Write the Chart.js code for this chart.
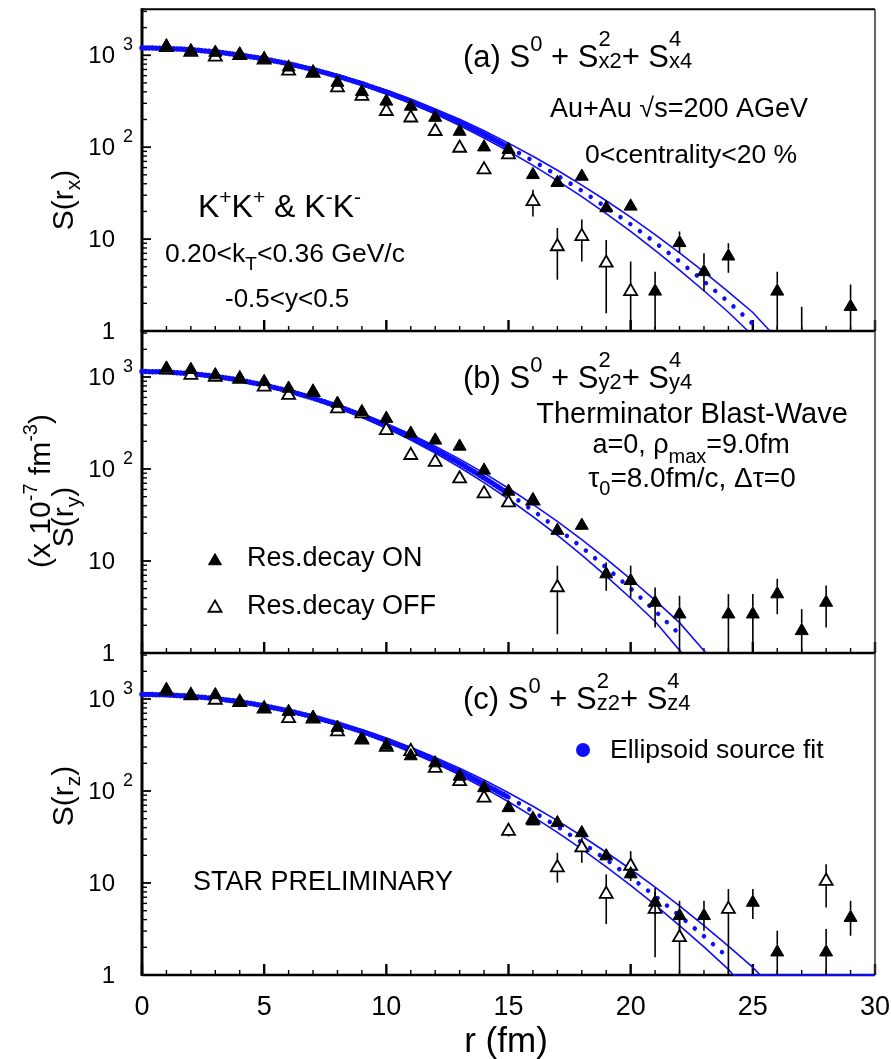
<!DOCTYPE html>
<html>
<head>
<meta charset="utf-8">
<script src="https://cdn.jsdelivr.net/npm/chart.js@4.4.0/dist/chart.umd.min.js"></script>
<style>
  body { margin: 0; background: #fff; }
  #wrap { position: relative; width: 891px; height: 1059px; overflow: hidden; background: #fff; }
  canvas { position: absolute; left: 0; }
</style>
</head>
<body>
<div id="wrap">
  <canvas id="panelA" width="891" height="345" style="top:0px"></canvas>
  <canvas id="panelB" width="891" height="345" style="top:320px"></canvas>
  <canvas id="panelC" width="891" height="419" style="top:640px"></canvas>
</div>
<script>
const FONT = "'Liberation Sans', Arial, Helvetica, sans-serif";
const BLUE = 'rgb(14, 14, 250)';

// r grid (fm) of the ellipsoid source fit
const fitR = [0, 1, 2, 3, 4, 5, 6, 7, 8, 9, 10, 11, 12, 13, 14, 15, 16, 17, 18, 19, 20, 21, 22, 23, 24, 25];

// (a) x direction: band upper / lower edge, central value, and where each edge reaches the floor
const aFitHi = [1202, 1189, 1152, 1093, 1014, 922, 821, 715, 610, 509, 416, 334, 261, 201, 151, 110.6, 79.6, 56.1, 38.7, 26.1, 17.3, 11.2, 7.09, 4.40, 2.67, 1.59];
const aFitLo = [1202, 1189, 1148, 1085, 1000, 902, 795, 685, 576, 473, 380, 299, 229, 172, 126, 90.4, 63.3, 43.3, 29.0, 18.9, 12.1, 7.54, 4.60, 2.74, 1.60];
const aFitMid = [1202, 1189, 1150, 1089, 1007, 912, 808, 700, 593, 491, 398, 316, 245, 186, 138, 100, 71.0, 49.3, 33.5, 22.2, 14.5, 9.19, 5.71, 3.47, 2.07, 1.20];
const aHiEnd = 25.7, aLoEnd = 24.8;

// (b) y direction
const bFitHi = [1148, 1134, 1091, 1021, 933, 829, 719, 608, 500, 401, 313, 239, 177, 128, 90.1, 61.8, 41.3, 26.9, 17.1, 10.57, 6.37, 3.74, 2.14, 1.06];
const bFitLo = [1148, 1132, 1086, 1011, 915, 805, 689, 573, 462, 364, 278, 206, 149, 104.5, 71.2, 47.2, 30.4, 19.05, 11.6, 6.86, 3.94, 2.20, 1.07];
const bFitMid = [1148, 1133, 1088, 1016, 924, 817, 704, 590, 481, 382, 295, 222, 162, 116, 80.1, 54.0, 35.4, 22.6, 14.1, 8.51, 5.01, 2.87, 1.60];
const bHiEnd = 23.1, bLoEnd = 22.1;

// (c) z direction
const cFitHi = [1122, 1110, 1074, 1017, 942, 854, 757, 657, 557, 462, 376, 299, 232, 177, 131.5, 95.8, 68.2, 47.6, 32.4, 21.6, 14.1, 9.02, 5.64, 3.45, 2.06, 1.21];
const cFitLo = [1122, 1108, 1070, 1007, 927, 832, 730, 625, 522, 426, 340, 264, 201, 149, 108, 76.3, 52.7, 35.5, 23.4, 15.0, 9.42, 5.77, 3.45, 2.02, 1.15];
const cFitMid = [1122, 1109, 1072, 1012, 934, 843, 743, 641, 539, 444, 357, 281, 216, 162, 119, 85.5, 59.9, 41.1, 27.5, 18.0, 11.5, 7.21, 4.41, 2.64, 1.54];
const cHiEnd = 25.3, cLoEnd = 24.2;

// Therminator source, resonance decays ON (filled) and OFF (open); lo/hi = error bar ends
const aOnR = [1, 2, 3, 4, 5, 6, 7, 8, 9, 10, 11, 12, 13, 14, 15, 16, 17, 18, 19, 20, 21, 22, 23, 24, 26, 27, 29];
const aOnS = [1250, 1110, 1070, 1020, 910, 740, 650, 505, 400, 315, 277, 210, 148, 100, 94, 50, 41, 48, 21.8, 22.7, 2.7, 9.1, 4.4, 6.5, 2.7, 0.6, 1.84];
const aOnLo = [null, null, null, null, null, null, null, null, null, null, null, null, null, null, null, null, null, null, null, null, 0.5, 7.0, 2.7, 4.3, 0.5, 0.2, 0.5];
const aOnHi = [null, null, null, null, null, null, null, null, null, null, null, null, null, null, null, null, null, null, null, null, 4.4, 12.1, 7.0, 9.0, 4.4, 1.84, 3.2];

const aOffR = [1, 2, 3, 4, 5, 6, 7, 8, 9, 10, 11, 12, 13, 14, 15, 16, 17, 18, 19, 20];
const aOffS = [1220, 1080, 960, 1000, 890, 675, 640, 444, 359, 246, 209, 149, 98, 57, 83, 25.7, 8.3, 10.7, 5.5, 2.7];
const aOffLo = [null, null, null, null, null, null, null, null, null, null, null, null, null, null, null, 17.6, 3.6, 5.7, 1.56, 0.5];
const aOffHi = [null, null, null, null, null, null, null, null, null, null, null, null, null, null, null, 34.5, 13.2, 16.3, 9.8, 5.7];

const bOnR = [1, 2, 3, 4, 5, 6, 7, 8, 9, 10, 11, 12, 13, 14, 15, 16, 17, 18, 19, 20, 21, 22, 24, 25, 26, 27, 28];
const bOnS = [1240, 1200, 1050, 966, 887, 751, 689, 515, 417, 353, 243, 205, 176, 96.6, 57, 45.5, 21.4, 24.3, 7.2, 6.1, 3.54, 2.64, 2.64, 2.64, 4.37, 1.74, 3.54];
const bOnLo = [null, null, null, null, null, null, null, null, null, null, null, null, null, null, null, null, null, null, 4.74, 4.0, 1.89, 0.5, 0.5, 0.5, 2.64, 0.5, 1.89];
const bOnHi = [null, null, null, null, null, null, null, null, null, null, null, null, null, null, null, null, null, null, 9.66, 8.9, 5.15, 4.19, 4.37, 4.37, 6.4, 3.0, 5.4];

const bOffR = [1, 2, 3, 4, 5, 6, 7, 8, 9, 10, 11, 12, 13, 14, 15, 16, 17];
const bOffS = [1200, 1050, 1000, 950, 782, 634, 680, 454, 400, 263, 141, 119, 78.4, 54, 43, 45, 5.15];
const bOffLo = [null, null, null, null, null, null, null, null, null, null, null, null, null, null, null, null, 1.6];
const bOffHi = [null, null, null, null, null, null, null, null, null, null, null, null, null, null, null, null, 8.9];

const cOnR = [1, 2, 3, 4, 5, 6, 7, 8, 9, 10, 11, 12, 13, 14, 15, 16, 17, 18, 19, 20, 21, 22, 23, 25, 26, 28, 29];
const cOnS = [1251, 1105, 1105, 935, 791, 728, 628, 489, 369, 312, 240, 201, 144, 108, 65.5, 47, 45, 35, 19.6, 12.5, 6.14, 4.4, 4.4, 6.14, 1.77, 1.77, 4.2];
const cOnLo = [null, null, null, null, null, null, null, null, null, null, null, null, null, null, null, null, null, null, null, null, 4.5, 3.0, 3.03, 4.06, 0.5, 0.5, 2.67];
const cOnHi = [null, null, null, null, null, null, null, null, null, null, null, null, null, null, null, null, null, null, null, null, 8.9, 6.4, 6.4, 8.6, 3.03, 3.16, 6.4];

const cOffR = [1, 2, 3, 4, 5, 6, 7, 8, 9, 10, 11, 12, 13, 14, 15, 16, 17, 18, 19, 20, 21, 22, 24, 28];
const cOffS = [1230, 1090, 975, 920, 780, 617, 610, 443, 360, 300, 270, 177, 127, 84, 36.6, 49, 14.7, 24.2, 7.57, 15.3, 5.2, 2.56, 5.2, 10.5];
const cOffLo = [null, null, null, null, null, null, null, null, null, null, null, null, null, null, 32, null, 10.1, 16.6, 3.58, 10.5, 1.56, 0.5, 0.5, 5.4];
const cOffHi = [null, null, null, null, null, null, null, null, null, null, null, null, null, null, 42, null, 21.3, 31, 12.4, 22.2, 8.0, 4.4, 8.6, 16];

// axis ticks
const xMajor = [0, 5, 10, 15, 20, 25, 30];
const yMajor = [1, 10, 100, 1000];
const yMinor = [2, 3, 4, 5, 6, 7, 8, 9, 20, 30, 40, 50, 60, 70, 80, 90, 200, 300, 400, 500, 600, 700, 800, 900, 2000, 3000];

const MARK_R = 7.5;

// ---- small text helpers: runs of text with super/subscripts ----
function layoutRuns(ctx, runs, x, y, paint) {
  let cx = x, stackStart = x, stackEnd = x;
  for (const r of runs) {
    ctx.font = r.s + 'px ' + FONT;
    const w = ctx.measureText(r.t).width;
    const start = r.under ? stackStart : cx;
    if (paint) ctx.fillText(r.t, start, y + (r.dy || 0));
    if (r.under) {
      cx = Math.max(stackEnd, start + w);
    } else {
      stackStart = start;
      cx = start + w;
    }
    stackEnd = cx;
  }
  return cx - x;
}

function drawRuns(ctx, x, y, runs, align) {
  ctx.textAlign = 'left';
  ctx.textBaseline = 'alphabetic';
  ctx.fillStyle = '#000';
  let sx = x;
  if (align === 'center') sx = x - layoutRuns(ctx, runs, 0, 0, false) / 2;
  layoutRuns(ctx, runs, sx, y, true);
}

function drawRotated(ctx, bx, cy, runs) {
  ctx.save();
  ctx.translate(bx, cy);
  ctx.rotate(-Math.PI / 2);
  drawRuns(ctx, 0, 0, runs, 'center');
  ctx.restore();
}

function triangle(ctx, x, y, r, filled) {
  ctx.beginPath();
  ctx.moveTo(x, y - r);
  ctx.lineTo(x + r * 0.866, y + r * 0.5);
  ctx.lineTo(x - r * 0.866, y + r * 0.5);
  ctx.closePath();
  ctx.fillStyle = filled ? '#000' : '#fff';
  ctx.fill();
  ctx.lineWidth = filled ? 1 : 1.8;
  ctx.strokeStyle = '#000';
  ctx.stroke();
}

function formula(ctx, letter, axis, baseY) {
  drawRuns(ctx, 463, baseY, [
    { t: '(' + letter + ') S', s: 31 },
    { t: '0', s: 22, dy: -16 },
    { t: ' + S', s: 31 },
    { t: '2', s: 22, dy: -21 },
    { t: axis + '2', s: 22, dy: 1, under: true },
    { t: '+ S', s: 31 },
    { t: '4', s: 22, dy: -21 },
    { t: axis + '4', s: 22, dy: 1, under: true }
  ]);
}

// ---- datasets ----
function pts(rs, vals) {
  return rs.map((r, i) => ({ x: r, y: vals[i] }));
}

function measured(rs, vals, lo, hi, filled) {
  return {
    data: pts(rs, vals),
    errLo: lo,
    errHi: hi,
    pointStyle: 'triangle',
    pointRadius: MARK_R,
    pointBackgroundColor: filled ? '#000' : '#fff',
    pointBorderColor: '#000',
    pointBorderWidth: filled ? 1 : 1.8,
    showLine: false
  };
}

// band edge: runs down to S = 1 and then along the floor to r = 30
function fitEdge(vals, end) {
  return {
    data: pts(fitR.slice(0, vals.length), vals).concat([{ x: end, y: 1 }, { x: 30, y: 1 }]),
    showLine: true,
    borderColor: BLUE,
    borderWidth: 1.6,
    pointRadius: 0,
    tension: 0,
    clip: 3
  };
}

// central fit value: thick near the top, a row of dots further out
function fitCentre(vals) {
  return {
    data: pts(fitR.slice(0, vals.length), vals),
    showLine: true,
    borderColor: BLUE,
    borderWidth: 4.5,
    borderCapStyle: 'round',
    pointRadius: 0,
    tension: 0,
    clip: 3,
    segment: {
      borderDash: c => c.p0.parsed.x < 15 ? [0.01, 3.5] : [0.01, 12],
      borderWidth: c => c.p0.parsed.x < 15 ? 5.5 : 4.5
    }
  };
}

// ---- axes, frame and error bars ----
function line(ctx, x1, y1, x2, y2) {
  ctx.beginPath();
  ctx.moveTo(x1, y1);
  ctx.lineTo(x2, y2);
  ctx.stroke();
}

const framePlugin = {
  id: 'frame',
  beforeDatasetsDraw(chart) {
    const { ctx, chartArea: a, scales: { x, y } } = chart;
    ctx.save();
    ctx.strokeStyle = '#000';
    ctx.lineCap = 'butt';
    // ticks point into the frame
    ctx.lineWidth = 1.4;
    yMinor.forEach(v => { const py = y.getPixelForValue(v); line(ctx, a.left, py, a.left + 5, py); });
    ctx.lineWidth = 1.8;
    yMajor.forEach(v => { const py = y.getPixelForValue(v); line(ctx, a.left, py, a.left + 9, py); });
    for (let r = 1; r < 30; r++) {
      if (r % 5 === 0) continue;
      const px = x.getPixelForValue(r);
      ctx.lineWidth = 1.4;
      line(ctx, px, a.bottom, px, a.bottom - 5);
    }
    xMajor.forEach(r => {
      const px = x.getPixelForValue(r);
      ctx.lineWidth = 2.4;
      line(ctx, px, a.bottom, px, a.bottom - 11);
    });
    // frame
    ctx.lineWidth = 2;
    line(ctx, a.left, a.top, a.right, a.top);
    ctx.lineWidth = 1.5;
    ctx.strokeStyle = '#333';
    line(ctx, a.right, a.top, a.right, a.bottom);
    ctx.strokeStyle = '#000';
    ctx.lineWidth = 2.5;
    line(ctx, a.left, a.bottom, a.right, a.bottom);
    ctx.lineWidth = 3;
    line(ctx, a.left, a.top - 1, a.left, a.bottom + 1);
    ctx.restore();
  },
  afterDatasetsDraw(chart) {
    const { ctx, chartArea: a, scales: { x, y } } = chart;
    ctx.save();
    ctx.beginPath();
    ctx.rect(a.left, a.top, a.right - a.left, a.bottom - a.top);
    ctx.clip();
    ctx.strokeStyle = '#000';
    ctx.lineWidth = 1.6;
    chart.data.datasets.forEach(ds => {
      if (!ds.errLo) return;
      ds.data.forEach((p, i) => {
        const lo = ds.errLo[i], hi = ds.errHi[i];
        if (lo == null || hi == null) return;
        const px = x.getPixelForValue(p.x);
        const py = y.getPixelForValue(p.y);
        line(ctx, px, y.getPixelForValue(hi), px, py - MARK_R);
        line(ctx, px, py + MARK_R * 0.5, px, y.getPixelForValue(lo));
      });
    });
    ctx.restore();

    // y tick labels
    ctx.save();
    ctx.fillStyle = '#000';
    yMajor.forEach(v => {
      const py = y.getPixelForValue(v);
      ctx.font = '24px ' + FONT;
      ctx.textAlign = 'right';
      ctx.textBaseline = 'middle';
      ctx.fillText(v === 1 ? '1' : '10', 115, py + 1);
      if (v >= 100) {
        ctx.font = '18px ' + FONT;
        ctx.textAlign = 'left';
        ctx.fillText(v === 100 ? '2' : '3', 123, py - 10);
      }
    });
    ctx.restore();
  }
};

function makePanel(id, pad, sets, deco) {
  return new Chart(document.getElementById(id), {
    type: 'scatter',
    data: { datasets: sets },
    options: {
      responsive: false,
      animation: false,
      events: [],
      layout: { padding: pad },
      scales: {
        x: { type: 'linear', min: 0, max: 30, display: false },
        y: { type: 'logarithmic', min: 1, max: 3162, display: false }
      },
      plugins: { legend: { display: false }, tooltip: { enabled: false } }
    },
    plugins: [framePlugin, { id: 'deco', afterDraw: chart => deco(chart.ctx, chart) }]
  });
}

// (a)
makePanel('panelA', { left: 142, right: 16, top: 9, bottom: 14 }, [
  measured(aOnR, aOnS, aOnLo, aOnHi, true),
  measured(aOffR, aOffS, aOffLo, aOffHi, false),
  fitCentre(aFitMid), fitEdge(aFitHi, aHiEnd), fitEdge(aFitLo, aLoEnd)
], ctx => {
  formula(ctx, 'a', 'x', 67);
  drawRuns(ctx, 550, 117, [{ t: 'Au+Au \u221As=200 AGeV', s: 27 }]);
  drawRuns(ctx, 585, 163, [{ t: '0<centrality<20 %', s: 26.5 }]);
  drawRuns(ctx, 198, 217, [
    { t: 'K', s: 32 }, { t: '+', s: 21, dy: -13 },
    { t: 'K', s: 32 }, { t: '+', s: 21, dy: -13 },
    { t: ' & K', s: 32 }, { t: '-', s: 21, dy: -13 },
    { t: 'K', s: 32 }, { t: '-', s: 21, dy: -13 }
  ]);
  drawRuns(ctx, 165, 262, [{ t: '0.20<k', s: 26.5 }, { t: 'T', s: 19, dy: 8 }, { t: '<0.36 GeV/c', s: 26.5 }]);
  drawRuns(ctx, 225, 307, [{ t: '-0.5<y<0.5', s: 26 }]);
  drawRotated(ctx, 73, 200, [{ t: 'S(r', s: 30 }, { t: 'x', s: 21, dy: 7 }, { t: ')', s: 30 }]);
});

// (b)
makePanel('panelB', { left: 142, right: 16, top: 11, bottom: 12 }, [
  measured(bOnR, bOnS, bOnLo, bOnHi, true),
  measured(bOffR, bOffS, bOffLo, bOffHi, false),
  fitCentre(bFitMid), fitEdge(bFitHi, bHiEnd), fitEdge(bFitLo, bLoEnd)
], ctx => {
  const top = 320;
  formula(ctx, 'b', 'y', 388 - top);
  drawRuns(ctx, 692, 423 - top, [{ t: 'Therminator Blast-Wave', s: 29 }], 'center');
  drawRuns(ctx, 691, 453 - top, [{ t: 'a=0, \u03C1', s: 27 }, { t: 'max', s: 20, dy: 10 }, { t: '=9.0fm', s: 27 }], 'center');
  drawRuns(ctx, 692, 487 - top, [{ t: '\u03C4', s: 28 }, { t: '0', s: 20, dy: 8 }, { t: '=8.0fm/c, \u0394\u03C4=0', s: 28 }], 'center');
  triangle(ctx, 215, 561 - top, 7.5, true);
  drawRuns(ctx, 247, 566 - top, [{ t: 'Res.decay ON', s: 27 }]);
  triangle(ctx, 215, 608 - top, 7.5, false);
  drawRuns(ctx, 247, 614 - top, [{ t: 'Res.decay OFF', s: 27 }]);
  drawRotated(ctx, 50, 491 - top, [
    { t: '(x 10', s: 30 }, { t: '-7', s: 20, dy: -13 },
    { t: ' fm', s: 30 }, { t: '-3', s: 20, dy: -13 }, { t: ')', s: 30 }
  ]);
  drawRotated(ctx, 73, 517 - top, [{ t: 'S(r', s: 30 }, { t: 'y', s: 21, dy: 7 }, { t: ')', s: 30 }]);
});

// (c) with the r axis
makePanel('panelC', { left: 142, right: 16, top: 13, bottom: 84 }, [
  measured(cOnR, cOnS, cOnLo, cOnHi, true),
  measured(cOffR, cOffS, cOffLo, cOffHi, false),
  fitCentre(cFitMid), fitEdge(cFitHi, cHiEnd), fitEdge(cFitLo, cLoEnd)
], (ctx, chart) => {
  const top = 640;
  formula(ctx, 'c', 'z', 709 - top);
  ctx.beginPath();
  ctx.arc(583, 750 - top, 7, 0, Math.PI * 2);
  ctx.fillStyle = BLUE;
  ctx.fill();
  drawRuns(ctx, 610, 758 - top, [{ t: 'Ellipsoid source fit', s: 26.5 }]);
  drawRuns(ctx, 193, 890 - top, [{ t: 'STAR PRELIMINARY', s: 27 }]);
  drawRotated(ctx, 73, 796 - top, [{ t: 'S(r', s: 30 }, { t: 'z', s: 21, dy: 7 }, { t: ')', s: 30 }]);

  const x = chart.scales.x;
  ctx.save();
  ctx.fillStyle = '#000';
  ctx.font = '27px ' + FONT;
  ctx.textAlign = 'center';
  ctx.textBaseline = 'middle';
  xMajor.forEach(r => ctx.fillText(String(r), x.getPixelForValue(r), 1008 - top));
  ctx.font = '35px ' + FONT;
  ctx.fillText('r (fm)', 506, 1042 - top);
  ctx.restore();
});
</script>
</body>
</html>
